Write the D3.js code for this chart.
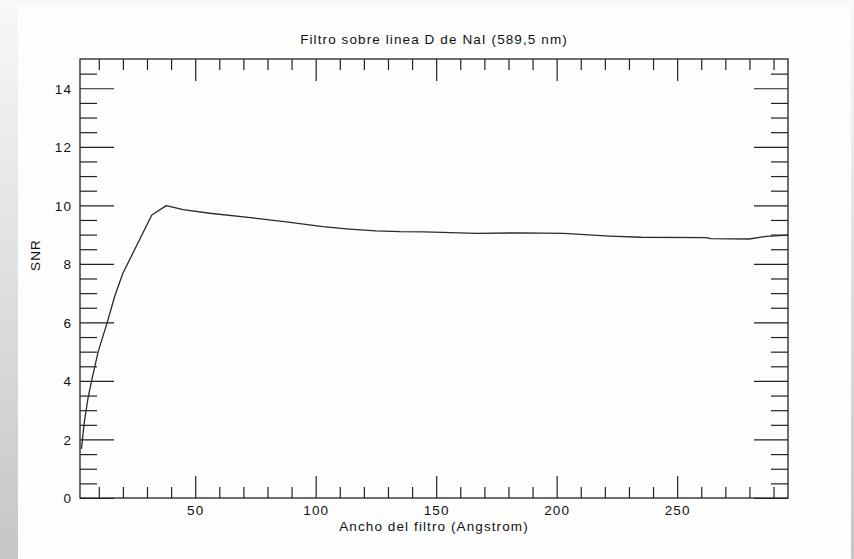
<!DOCTYPE html>
<html>
<head>
<meta charset="utf-8">
<script src="https://cdn.jsdelivr.net/npm/d3@7"></script>
<style>
html,body{margin:0;padding:0;background:#fafafa;}
svg{display:block;}
text{font-family:"Liberation Sans",Arial,Helvetica,sans-serif;fill:#111;}
</style>
</head>
<body>
<svg id="chart" width="854" height="559"></svg>
<script>
// ---- data ----
const filterWidth = [2.8, 4, 5.5, 7, 9.75, 13.5, 16.7, 20, 32, 38, 45, 56, 73, 87, 103, 114, 125, 135, 145, 167, 185, 203, 222, 235, 262, 264, 280, 287, 296];
const snr =         [1.68, 2.6, 3.4, 4.0, 5.0, 6.0, 6.92, 7.68, 9.67, 9.99, 9.85, 9.73, 9.58, 9.44, 9.27, 9.19, 9.13, 9.10, 9.09, 9.04, 9.06, 9.04, 8.95, 8.91, 8.90, 8.86, 8.85, 8.94, 8.98];
const xTickLabels = [50, 100, 150, 200, 250];
const xMinorTicks = [10, 20, 30, 40, 60, 70, 80, 90, 110, 120, 130, 140, 160, 170, 180, 190, 210, 220, 230, 240, 260, 270, 280, 290];
const yTickLabels = [0, 2, 4, 6, 8, 10, 12, 14];
const yMinorTicks = [0.5, 1, 1.5, 2.5, 3, 3.5, 4.5, 5, 5.5, 6.5, 7, 7.5, 8.5, 9, 9.5, 10.5, 11, 11.5, 12.5, 13, 13.5, 14.5];
const titleText = "Filtro sobre linea D de NaI (589,5 nm)";
const xTitle = "Ancho del filtro (Angstrom)";
const yTitle = "SNR";

// ---- layout ----
const W = 854, H = 559;
const L = 80, R = 788, T = 59, B = 498;
const svg = d3.select("#chart");

// background panels
const defs = svg.append("defs");
const gl = defs.append("linearGradient").attr("id","gL").attr("x1",0).attr("y1",0).attr("x2",0).attr("y2",1);
gl.append("stop").attr("offset","0%").attr("stop-color","#f8f8f8");
gl.append("stop").attr("offset","100%").attr("stop-color","#c6c6c6");
svg.append("rect").attr("x",0).attr("y",0).attr("width",W).attr("height",H).attr("fill","#f8f8f8");
svg.append("rect").attr("x",0).attr("y",0).attr("width",18).attr("height",H).attr("fill","url(#gL)");
svg.append("rect").attr("x",851).attr("y",0).attr("width",3).attr("height",H).attr("fill","url(#gL)");
svg.append("rect").attr("x",18).attr("y",5).attr("width",833).attr("height",H-5).attr("fill","#fdfdfd");

const x = d3.scaleLinear().domain([2.2, 296]).range([L, R]);
const y = d3.scaleLinear().domain([0, 15]).range([B, T]);

const fs = "13.5px", ls = "1.1px";
const stroke = "#222";

function styleAxis(g){
  g.select(".domain").remove();
  g.selectAll(".tick line").attr("stroke", stroke).attr("stroke-width", 1.2);
}

const xMajLen = 22, xMinLen = 11, yMajLen = 34, yMinLen = 17;
const gxB = svg.append("g").attr("transform",`translate(0,${B})`)
  .call(d3.axisBottom(x).tickValues(xTickLabels).tickSizeInner(-xMajLen).tickSizeOuter(0).tickFormat(d3.format("d")));
styleAxis(gxB);
gxB.selectAll(".tick text").attr("y",17).attr("dy",0).attr("font-size",fs).attr("letter-spacing",ls).attr("fill","#111").attr("font-family",null);
const gxBm = svg.append("g").attr("transform",`translate(0,${B})`)
  .call(d3.axisBottom(x).tickValues(xMinorTicks).tickSizeInner(-xMinLen).tickSizeOuter(0).tickFormat(""));
styleAxis(gxBm);
const gxT = svg.append("g").attr("transform",`translate(0,${T})`)
  .call(d3.axisTop(x).tickValues(xTickLabels).tickSizeInner(-xMajLen).tickSizeOuter(0).tickFormat(""));
styleAxis(gxT);
const gxTm = svg.append("g").attr("transform",`translate(0,${T})`)
  .call(d3.axisTop(x).tickValues(xMinorTicks).tickSizeInner(-xMinLen).tickSizeOuter(0).tickFormat(""));
styleAxis(gxTm);

const gyL = svg.append("g").attr("transform",`translate(${L},0)`)
  .call(d3.axisLeft(y).tickValues(yTickLabels).tickSizeInner(-yMajLen).tickSizeOuter(0).tickFormat(d3.format("d")));
styleAxis(gyL);
gyL.selectAll(".tick text").attr("x",-8).attr("dy","0.36em").attr("font-size",fs).attr("letter-spacing",ls).attr("fill","#111").attr("font-family",null);
const gyLm = svg.append("g").attr("transform",`translate(${L},0)`)
  .call(d3.axisLeft(y).tickValues(yMinorTicks).tickSizeInner(-yMinLen).tickSizeOuter(0).tickFormat(""));
styleAxis(gyLm);
const gyR = svg.append("g").attr("transform",`translate(${R},0)`)
  .call(d3.axisRight(y).tickValues(yTickLabels).tickSizeInner(-yMajLen).tickSizeOuter(0).tickFormat(""));
styleAxis(gyR);
const gyRm = svg.append("g").attr("transform",`translate(${R},0)`)
  .call(d3.axisRight(y).tickValues(yMinorTicks).tickSizeInner(-yMinLen).tickSizeOuter(0).tickFormat(""));
styleAxis(gyRm);

// frame
svg.append("rect").attr("x",L).attr("y",T).attr("width",R-L).attr("height",B-T)
  .attr("fill","none").attr("stroke",stroke).attr("stroke-width",1.3);

// curve
const pts = filterWidth.map((d,i)=>[d, snr[i]]);
defs.append("clipPath").attr("id","clip").append("rect")
  .attr("x",L).attr("y",T).attr("width",R-L).attr("height",B-T);
svg.append("path").datum(pts)
  .attr("clip-path","url(#clip)")
  .attr("fill","none").attr("stroke","#2a2a2a").attr("stroke-width",1.3)
  .attr("stroke-linejoin","round")
  .attr("d", d3.line().x(d=>x(d[0])).y(d=>y(d[1])));

// titles
svg.append("text").attr("x",(L+R)/2).attr("y",44).attr("text-anchor","middle")
  .attr("font-size",fs).attr("letter-spacing",ls).text(titleText);
svg.append("text").attr("x",(L+R)/2).attr("y",531).attr("text-anchor","middle")
  .attr("font-size",fs).attr("letter-spacing",ls).text(xTitle);
svg.append("text").attr("transform","translate(40,255) rotate(-90)").attr("text-anchor","middle")
  .attr("font-size",fs).attr("letter-spacing",ls).text(yTitle);
</script>
</body>
</html>
